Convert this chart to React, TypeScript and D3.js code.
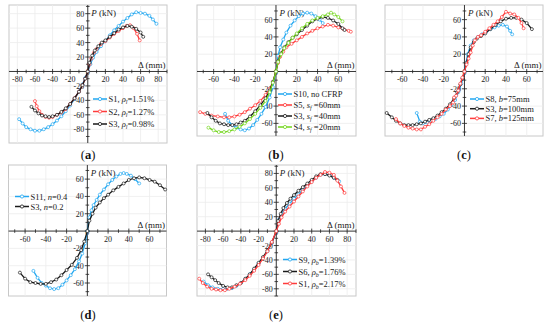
import React from 'react';
import * as d3 from 'd3';

type Pt = [number, number];

// ---------- Panel (a) ----------
const aS1: Pt[] = [[-78,-66],[-74,-72],[-70,-77],[-65,-80],[-60,-82],[-55,-82],[-50,-80],[-45,-77],[-40,-73],[-35,-68],[-30,-62],[-25,-55],[-20,-47],[-15,-38],[-10,-28],[-6,-18],[-3,-9],[0,0],[3,10],[6,19],[10,27],[15,35],[20,42],[25,50],[30,57],[35,63],[40,69],[45,74],[50,79],[55,82],[60,81],[65,80],[70,77],[74,72],[78,66]];
const aS2: Pt[] = [[-60,-41],[-58,-48],[-55,-55],[-52,-60],[-48,-63],[-44,-64],[-40,-63],[-35,-60],[-30,-57],[-25,-52],[-20,-45],[-15,-37],[-10,-28],[-6,-19],[-3,-10],[0,0],[2,10],[4,18],[7,26],[10,31],[15,38],[20,42],[25,47],[30,52],[35,56],[40,60],[44,63],[48,64],[52,60],[56,52],[59,43]];
const aS3: Pt[] = [[-64,-49],[-60,-54],[-56,-58],[-52,-61],[-48,-62],[-44,-63],[-40,-62],[-35,-60],[-30,-56],[-25,-51],[-20,-45],[-15,-37],[-10,-28],[-6,-19],[-3,-10],[0,0],[2,12],[5,22],[8,29],[12,35],[16,40],[20,43],[25,48],[30,53],[35,58],[40,61],[45,63],[50,62],[55,59],[60,54],[63,48]];

// ---------- Panel (b) ----------
const bS10: Pt[] = [[-49,-49],[-46,-57],[-42,-62],[-38,-65],[-34,-67],[-30,-68],[-26,-66],[-22,-62],[-18,-56],[-14,-49],[-10,-41],[-6,-30],[-3,-18],[0,0],[2,18],[4,28],[7,37],[10,45],[14,53],[18,59],[22,64],[26,67],[30,68],[34,67],[38,64],[42,60],[45,56]];
const bS5: Pt[] = [[-73,-47],[-68,-49],[-62,-51],[-56,-52],[-50,-53],[-45,-53],[-40,-52],[-35,-50],[-30,-47],[-25,-43],[-20,-39],[-15,-34],[-10,-27],[-6,-20],[-3,-12],[0,0],[2,10],[4,17],[7,23],[10,28],[15,32],[20,36],[25,40],[30,44],[35,47],[40,50],[45,52],[50,54],[55,53],[60,51],[65,49],[70,47],[72,46]];
const bS3: Pt[] = [[-66,-48],[-62,-53],[-58,-57],[-54,-60],[-50,-61],[-46,-62],[-42,-62],[-38,-61],[-34,-59],[-30,-57],[-25,-52],[-20,-46],[-15,-39],[-10,-31],[-6,-22],[-3,-12],[0,0],[2,12],[5,21],[8,28],[12,34],[16,39],[20,43],[25,48],[30,53],[35,58],[40,61],[45,63],[50,62],[55,59],[60,55],[64,50],[66,48]];
const bS4: Pt[] = [[-65,-65],[-60,-68],[-55,-70],[-50,-70],[-45,-69],[-40,-67],[-35,-64],[-30,-60],[-25,-55],[-20,-49],[-15,-42],[-10,-34],[-6,-24],[-3,-13],[0,0],[2,11],[5,20],[8,27],[12,33],[16,39],[20,44],[25,50],[30,55],[35,59],[40,62],[45,64],[50,66],[53,68],[56,66],[60,63],[64,58]];

// ---------- Panel (c) ----------
const cS8: Pt[] = [[-46,-48],[-43,-58],[-40,-60],[-36,-59],[-32,-57],[-28,-55],[-24,-52],[-20,-49],[-16,-44],[-12,-38],[-9,-33],[-6,-24],[-3,-14],[0,0],[3,20],[6,30],[9,36],[13,40],[17,43],[21,46],[25,49],[29,51],[33,53],[37,54],[41,52],[44,47],[46,43]];
const cS3: Pt[] = [[-75,-48],[-70,-53],[-66,-57],[-62,-60],[-58,-62],[-54,-62],[-50,-62],[-46,-61],[-42,-60],[-38,-58],[-34,-56],[-30,-54],[-26,-51],[-22,-47],[-18,-43],[-14,-38],[-10,-31],[-7,-24],[-4,-15],[-2,-8],[0,0],[2,10],[4,20],[6,28],[9,34],[12,38],[16,41],[20,44],[25,49],[30,54],[35,58],[40,61],[45,62],[50,62],[55,60],[60,56],[65,49]];
const cS7: Pt[] = [[-66,-55],[-62,-60],[-58,-63],[-54,-65],[-50,-66],[-46,-67],[-42,-67],[-38,-64],[-34,-61],[-30,-57],[-26,-53],[-22,-49],[-18,-44],[-14,-40],[-11,-36],[-10,-30],[-8,-28],[-6,-22],[-4,-14],[-2,-7],[0,0],[2,8],[4,15],[6,22],[8,30],[10,36],[13,40],[16,42],[20,46],[24,50],[28,54],[32,58],[36,63],[40,69],[44,67],[48,66],[52,62],[55,56],[57,50]];

// ---------- Panel (d) ----------
const dS11: Pt[] = [[-52,-46],[-48,-54],[-44,-60],[-40,-63],[-36,-66],[-32,-67],[-28,-66],[-24,-62],[-20,-57],[-16,-51],[-12,-44],[-8,-35],[-5,-26],[-2,-14],[0,0],[2,16],[4,24],[6,30],[9,36],[12,42],[16,48],[20,54],[24,59],[28,63],[32,66],[35,67],[38,66],[42,64],[46,60],[50,55]];
const dS3: Pt[] = [[-65,-48],[-60,-55],[-55,-59],[-50,-60],[-45,-61],[-40,-61],[-35,-59],[-30,-56],[-25,-51],[-20,-45],[-15,-39],[-10,-31],[-6,-22],[-3,-12],[0,0],[2,12],[5,20],[8,27],[12,33],[16,38],[20,42],[25,47],[30,51],[35,55],[40,59],[45,61],[50,62],[55,61],[60,59],[65,57],[70,53],[75,48]];

// ---------- Panel (e) ----------
const eS9: Pt[] = [[-82,-70],[-77,-75],[-72,-78],[-66,-80],[-60,-80],[-55,-80],[-50,-79],[-45,-76],[-40,-72],[-35,-67],[-30,-60],[-25,-53],[-20,-45],[-15,-37],[-10,-28],[-5,-16],[0,0],[3,16],[6,24],[10,31],[15,38],[20,45],[25,51],[30,57],[35,63],[40,69],[45,74],[50,78],[55,79],[60,78],[65,74],[71,69]];
const eS6: Pt[] = [[-77,-60],[-73,-64],[-69,-68],[-65,-72],[-60,-76],[-55,-78],[-50,-78],[-45,-75],[-40,-72],[-35,-66],[-30,-60],[-25,-52],[-20,-44],[-15,-36],[-10,-27],[-5,-16],[0,0],[2,14],[5,24],[8,32],[12,39],[16,45],[20,50],[25,56],[30,61],[35,66],[40,71],[45,76],[50,79],[55,79],[60,77],[65,74],[69,71]];
const eS1: Pt[] = [[-87,-66],[-83,-72],[-78,-77],[-73,-80],[-68,-81],[-63,-82],[-58,-82],[-53,-80],[-47,-77],[-41,-73],[-35,-68],[-30,-62],[-25,-55],[-20,-47],[-15,-38],[-10,-28],[-5,-15],[0,0],[3,10],[6,19],[10,27],[15,34],[20,41],[25,48],[30,55],[35,62],[40,68],[45,74],[50,78],[55,82],[60,81],[65,78],[69,70],[73,62],[77,53]];

const ticks80 = [-80, -60, -40, -20, 20, 40, 60, 80];
const ticks60 = [-60, -40, -20, 20, 40, 60];

const BLUE = '#22a7f0';
const RED = '#ff3b3b';
const BLACK = '#1a1a1a';
const GREEN = '#72d61c';

const FONT = '"Liberation Serif", "Times New Roman", serif';

interface Series { data: Pt[]; color: string; label: React.ReactNode }
interface PanelDef {
  left: number; right: number; top: number; bottom: number;
  xDomain: [number, number]; yDomain: [number, number];
  xTicks: number[]; yTicks: number[];
  series: Series[];
  legendX: number; legendY: number; legendDy: number;
  tag: string; tagX: number; tagY: number;
}

const sub = (main: string, s: string, rest: string, italicMain = true) => (
  <>
    <tspan fontStyle={italicMain ? 'italic' : 'normal'}>{main}</tspan>
    <tspan fontStyle="italic" fontSize={6} dy={2}>{s}</tspan>
    <tspan dy={-2}>{rest}</tspan>
  </>
);

const panels: PanelDef[] = [
  {
    left: 9, right: 167, top: 5, bottom: 143, xDomain: [-89.5, 90], yDomain: [-99, 92],
    xTicks: ticks80, yTicks: ticks80,
    series: [
      { data: aS1, color: BLUE, label: <><tspan>S1, </tspan>{sub('ρ', 'l', '=1.51%')}</> },
      { data: aS2, color: RED, label: <><tspan>S2, </tspan>{sub('ρ', 'l', '=1.27%')}</> },
      { data: aS3, color: BLACK, label: <><tspan>S3, </tspan>{sub('ρ', 'l', '=0.98%')}</> },
    ],
    legendX: 93, legendY: 99, legendDy: 12.5, tag: 'a', tagX: 88, tagY: 155,
  },
  {
    left: 197, right: 356, top: 5, bottom: 136, xDomain: [-76, 77], yDomain: [-74.6, 76.9],
    xTicks: ticks60, yTicks: ticks60,
    series: [
      { data: bS10, color: BLUE, label: <tspan>S10, no CFRP</tspan> },
      { data: bS5, color: RED, label: <><tspan>S5, </tspan>{sub('s', 'f', ' =60mm')}</> },
      { data: bS3, color: BLACK, label: <><tspan>S3, </tspan>{sub('s', 'f', ' =40mm')}</> },
      { data: bS4, color: GREEN, label: <><tspan>S4, </tspan>{sub('s', 'f', ' =20mm')}</> },
    ],
    legendX: 278, legendY: 94, legendDy: 11, tag: 'b', tagX: 276, tagY: 155,
  },
  {
    left: 385, right: 543, top: 5, bottom: 136, xDomain: [-76.6, 75.7], yDomain: [-74.6, 76.9],
    xTicks: ticks60, yTicks: ticks60,
    series: [
      { data: cS8, color: BLUE, label: <><tspan>S8, </tspan><tspan fontStyle="italic">b</tspan><tspan>=75mm</tspan></> },
      { data: cS3, color: BLACK, label: <><tspan>S3, </tspan><tspan fontStyle="italic">b</tspan><tspan>=100mm</tspan></> },
      { data: cS7, color: RED, label: <><tspan>S7, </tspan><tspan fontStyle="italic">b</tspan><tspan>=125mm</tspan></> },
    ],
    legendX: 470, legendY: 99, legendDy: 9.7, tag: 'c', tagX: 464, tagY: 155,
  },
  {
    left: 8.5, right: 166.5, top: 165, bottom: 296, xDomain: [-76, 76.3], yDomain: [-75, 76.3],
    xTicks: ticks60, yTicks: ticks60,
    series: [
      { data: dS11, color: BLUE, label: <><tspan>S11, </tspan><tspan fontStyle="italic">n</tspan><tspan>=0.4</tspan></> },
      { data: dS3, color: BLACK, label: <><tspan>S3,   </tspan><tspan fontStyle="italic">n</tspan><tspan>=0.2</tspan></> },
    ],
    legendX: 15, legendY: 196.5, legendDy: 10, tag: 'd', tagX: 88, tagY: 315,
  },
  {
    left: 197, right: 356, top: 165, bottom: 296, xDomain: [-89.5, 90], yDomain: [-90, 91.7],
    xTicks: ticks80, yTicks: ticks80,
    series: [
      { data: eS9, color: BLUE, label: <><tspan>S9, </tspan>{sub('ρ', 'b', '=1.39%')}</> },
      { data: eS6, color: BLACK, label: <><tspan>S6, </tspan>{sub('ρ', 'b', '=1.76%')}</> },
      { data: eS1, color: RED, label: <><tspan>S1, </tspan>{sub('ρ', 'b', '=2.17%')}</> },
    ],
    legendX: 283, legendY: 259.5, legendDy: 12, tag: 'e', tagX: 276, tagY: 315,
  },
];

function Panel({ p }: { p: PanelDef }) {
  const x = d3.scaleLinear().domain(p.xDomain).range([p.left, p.right]);
  const y = d3.scaleLinear().domain(p.yDomain).range([p.bottom, p.top]);
  const x0 = x(0);
  const y0 = y(0);
  const line = d3.line<Pt>().x(d => x(d[0])).y(d => y(d[1]));
  const gridX = d3.range(Math.ceil(p.xDomain[0] / 20) * 20, p.xDomain[1] + 0.01, 20);
  const gridY = d3.range(Math.ceil(p.yDomain[0] / 20) * 20, p.yDomain[1] + 0.01, 20);
  const minorX = d3.range(Math.ceil(p.xDomain[0] / 10) * 10, p.xDomain[1] + 0.01, 10);
  const minorY = d3.range(Math.ceil(p.yDomain[0] / 10) * 10, p.yDomain[1] + 0.01, 10);
  return (
    <g fontFamily={FONT}>
      <rect x={p.left} y={p.top} width={p.right - p.left} height={p.bottom - p.top} fill="#fff" stroke="#c8c8c8" strokeWidth={1} />
      {gridX.map(v => <line key={'gx' + v} x1={x(v)} x2={x(v)} y1={p.top} y2={p.bottom} stroke="#ececec" strokeWidth={0.8} />)}
      {gridY.map(v => <line key={'gy' + v} y1={y(v)} y2={y(v)} x1={p.left} x2={p.right} stroke="#ececec" strokeWidth={0.8} />)}
      <line x1={p.left} x2={p.right} y1={y0} y2={y0} stroke="#222" strokeWidth={0.9} />
      <line y1={p.top} y2={p.bottom} x1={x0} x2={x0} stroke="#222" strokeWidth={0.9} />
      {minorX.map(v => {
        const major = v % 20 === 0;
        const l = major ? 2.5 : 1.8;
        return <line key={'tx' + v} x1={x(v)} x2={x(v)} y1={y0 - l} y2={y0 + l} stroke="#222" strokeWidth={0.8} />;
      })}
      {minorY.map(v => {
        const major = v % 20 === 0;
        const l = major ? 2.5 : 1.8;
        return <line key={'ty' + v} y1={y(v)} y2={y(v)} x1={x0 - l} x2={x0 + l} stroke="#222" strokeWidth={0.8} />;
      })}
      {p.xTicks.map(v => (
        <text key={'lx' + v} x={x(v)} y={y0 + 10.5} fontSize={8} textAnchor="middle" fill="#222">{v}</text>
      ))}
      {p.yTicks.map(v => (
        <text key={'ly' + v} x={x0 - 3.5} y={y(v) + 3} fontSize={8} textAnchor="end" fill="#222">{v}</text>
      ))}
      <text x={x0 + 2} y={y0 + 3.5} fontSize={8} textAnchor="end" fill="#222">0</text>
      <text x={x0 + 3.5} y={p.top + 10.5} fontSize={9} fill="#222"><tspan fontStyle="italic">P</tspan> (kN)</text>
      <text x={p.right - 1.5} y={y0 - 3} fontSize={9} textAnchor="end" fill="#222">Δ (mm)</text>
      {p.series.map((s, i) => (
        <g key={'s' + i}>
          <path d={line(s.data) || ''} fill="none" stroke={s.color} strokeWidth={1.3} />
          {s.data.map((d, j) => (
            <circle key={j} cx={x(d[0])} cy={y(d[1])} r={1.5} fill="#fff" stroke={s.color} strokeWidth={0.7} />
          ))}
        </g>
      ))}
      {p.series.map((s, i) => {
        const ly = p.legendY + i * p.legendDy;
        return (
          <g key={'lg' + i}>
            <line x1={p.legendX} x2={p.legendX + 14} y1={ly} y2={ly} stroke={s.color} strokeWidth={1.5} />
            <circle cx={p.legendX + 7} cy={ly} r={1.6} fill="#fff" stroke={s.color} strokeWidth={0.8} />
            <text x={p.legendX + 15.5} y={ly + 3} fontSize={8.5} fill="#222">{s.label}</text>
          </g>
        );
      })}
      <text x={p.tagX} y={p.tagY + 4} fontSize={12.5} textAnchor="middle" fill="#111">
        (<tspan fontWeight="bold">{p.tag}</tspan>)
      </text>
    </g>
  );
}

export default function App() {
  return (
    <svg width={550} height={327} style={{ position: 'absolute', left: 0, top: 0, background: '#fff' }}>
      <rect x={0} y={0} width={550} height={327} fill="#fff" />
      {panels.map((p, i) => <Panel key={i} p={p} />)}
    </svg>
  );
}
